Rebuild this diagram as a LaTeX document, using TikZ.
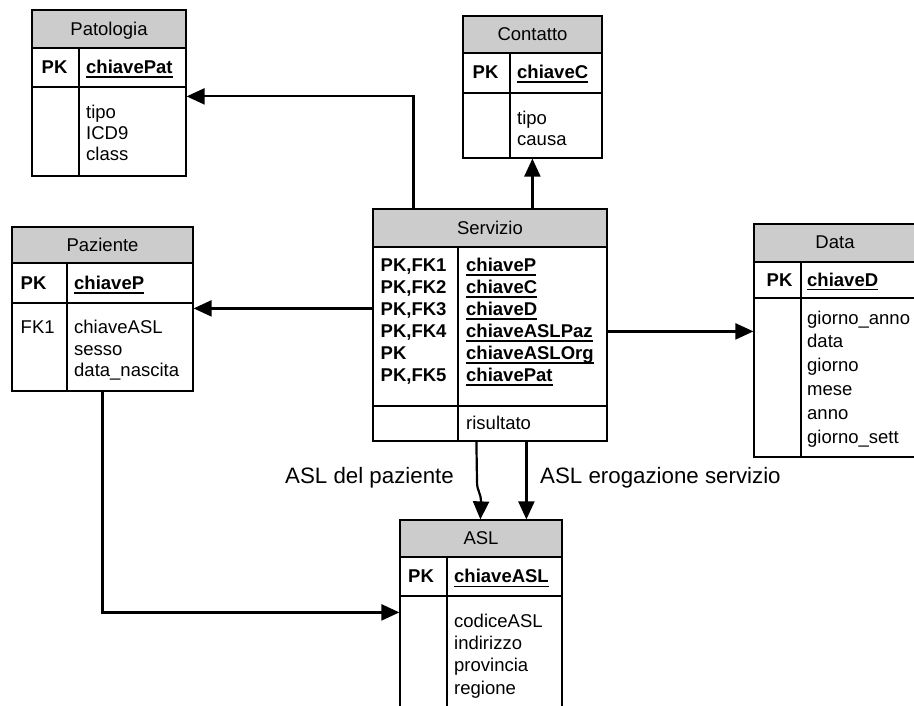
\documentclass[tikz,border=0pt]{standalone}
\usepackage{fontspec}
\setmainfont{Liberation Sans}
\usetikzlibrary{arrows.meta,calc,fit}

\definecolor{hdrgray}{RGB}{204,204,204}
\newcommand\tabfont{\fontsize{18.5}{21}\selectfont}
\newcommand\lblfont{\fontsize{22.3}{26}\selectfont}

\tikzset{
  tblbox/.style={draw, line width=1.2pt, inner sep=0pt},
  tblrule/.style={line width=1.2pt},
  hdrtext/.style={anchor=base, font=\tabfont, inner sep=0pt},
  pktext/.style={anchor=base west, font=\tabfont\bfseries, inner sep=0pt},
  attrtext/.style={anchor=base west, font=\tabfont, inner sep=0pt},
  conn/.style={line width=2.2pt, -{Triangle[length=18pt,width=16pt]}},
  lbl/.style={anchor=base west, font=\lblfont, inner sep=0pt},
}

% table frame: name, left, top, right, bottom, header bottom, key bottom, column divider
\newcommand\ertable[8]{%
  \fill[hdrgray] (#2,#3) rectangle (#4,#6);
  \draw[tblrule] (#2,#6) -- (#4,#6) (#2,#7) -- (#4,#7) (#8,#6) -- (#8,#5);
  \node[tblbox, fit={(#2,#3) (#4,#5)}] (#1) {};
}
% underlined key field: name, x, baseline, text
\newcommand\keyfield[4]{%
  \node[pktext] (#1) at (#2,#3) {#4};
  \draw[line width=1.6pt] ($(#1.base west)+(0,3.5)$) -- ($(#1.base east)+(0,3.5)$);
}
% column of plain lines: prefix, x, first baseline, step, items
\newcommand\attrlist[6][attrtext]{%
  \foreach \txt [count=\k] in {#6}
    \node[#1] (#2-\k) at (#3,{#4+(\k-1)*#5}) {\txt};
}

\begin{document}
\begin{tikzpicture}[x=1pt,y=-1pt]
\useasboundingbox (0,0) rectangle (914,706);
\clip (0,0) rectangle (914,706);
\fill[white] (0,0) rectangle (914,706);

% Patologia
\ertable{patologia}{32}{10}{186}{176}{48}{87}{79}
\node[hdrtext] (patologia-h) at (109,35.3) {Patologia};
\node[pktext] (patologia-pk) at (41.5,73.8) {PK};
\keyfield{patologia-k}{86}{73.8}{chiavePat}
\attrlist{patologia-a}{86}{119}{21}{tipo,ICD9,class}

% Contatto
\ertable{contatto}{463}{16}{602}{158}{53}{93}{510}
\node[hdrtext] (contatto-h) at (532.5,40.8) {Contatto};
\node[pktext] (contatto-pk) at (472.5,78.8) {PK};
\keyfield{contatto-k}{517}{78.8}{chiaveC}
\attrlist{contatto-a}{517}{125}{21}{tipo,causa}

% Paziente
\ertable{paziente}{12}{227}{193}{391}{263}{303}{67}
\node[hdrtext] (paziente-h) at (102.5,251.3) {Paziente};
\node[pktext] (paziente-pk) at (20.5,289.3) {PK};
\keyfield{paziente-k}{74}{289.3}{chiaveP}
\node[attrtext] (paziente-fk) at (20.5,333.3) {FK1};
\attrlist{paziente-a}{74}{333.3}{21.7}{chiaveASL,sesso,data\_nascita}

% Servizio
\ertable{servizio}{373}{209}{607}{441}{247}{406}{458}
\node[hdrtext] (servizio-h) at (490,234.3) {Servizio};
\attrlist[pktext]{servizio-pk}{380.5}{271.7}{22}{{PK,FK1},{PK,FK2},{PK,FK3},{PK,FK4},PK,{PK,FK5}}
\keyfield{servizio-k1}{466}{271.7}{chiaveP}
\keyfield{servizio-k2}{466}{293.7}{chiaveC}
\keyfield{servizio-k3}{466}{315.7}{chiaveD}
\keyfield{servizio-k4}{466}{337.7}{chiaveASLPaz}
\keyfield{servizio-k5}{466}{359.7}{chiaveASLOrg}
\keyfield{servizio-k6}{466}{381.7}{chiavePat}
\node[attrtext] (servizio-a) at (466,429) {risultato};

% Data
\ertable{data}{754}{224}{916}{457}{262}{298}{801}
\node[hdrtext] (data-h) at (835,249) {Data};
\node[pktext] (data-pk) at (766.5,286) {PK};
\keyfield{data-k}{807}{286}{chiaveD}
\attrlist{data-a}{807}{324}{23.8}{giorno\_anno,data,giorno,mese,anno,giorno\_sett}

% ASL
\ertable{asl}{400}{520}{562}{720}{557}{596}{447}
\node[hdrtext] (asl-h) at (481,544.8) {ASL};
\node[pktext] (asl-pk) at (408,582.8) {PK};
\keyfield{asl-k}{454}{582.8}{chiaveASL}
\attrlist{asl-a}{454}{627.5}{22.2}{codiceASL,indirizzo,provincia,regione}

% relationships
\draw[conn] ($(servizio.north west)+(41,0)$) |- ($(patologia.north east)+(0,87)$);
\draw[conn] ($(servizio.north west)+(160,0)$) -- ($(contatto.south west)+(70,0)$);
\draw[conn] ($(servizio.north west)+(0,100)$) -- ($(paziente.north east)+(0,82)$);
\draw[conn] ($(servizio.north east)+(0,123)$) -- ($(data.north west)+(0,108)$);
\draw[conn] ($(servizio.south west)+(104,0)$) -- (477,481)
  .. controls (477,493) and (481,491) .. (481,503) -- ($(asl.north west)+(81,0)$);
\draw[conn] ($(servizio.south west)+(154,0)$) -- ($(asl.north west)+(127,0)$);
\draw[conn] ($(paziente.south west)+(91,0)$) |- ($(asl.north west)+(0,93)$);

\node[lbl] (lbl-paz) at (285,483.5) {ASL del paziente};
\node[lbl] (lbl-erog) at (540,483.5) {ASL erogazione servizio};
\end{tikzpicture}
\end{document}
